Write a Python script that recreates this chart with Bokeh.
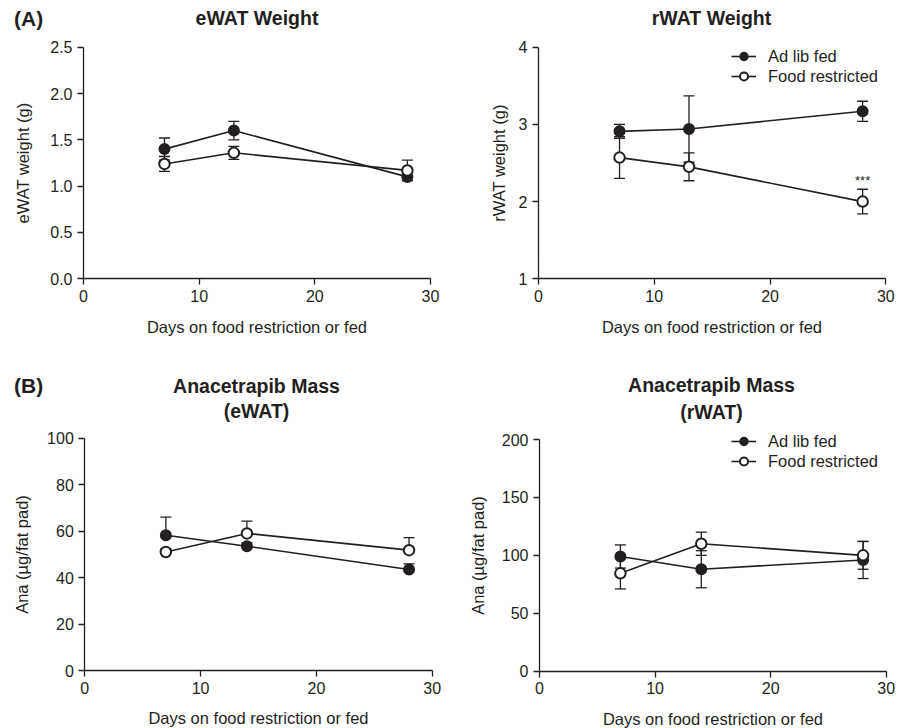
from bokeh.plotting import figure
from bokeh.models import (ColumnDataSource, FixedTicker, Label, Legend, LegendItem, Range1d)
from bokeh.layouts import column, row
from bokeh.embed import file_html
from bokeh.resources import INLINE
from bokeh.core.properties import value

# ---------------- data ----------------
series_labels = ["Ad lib fed", "Food restricted"]
x_label = "Days on food restriction or fed"
x_ticks = [0, 10, 20, 30]

ewat_days = [7, 13, 28]
ewat_adlib = [1.40, 1.60, 1.10]
ewat_adlib_err = [0.12, 0.10, 0.04]
ewat_fr = [1.24, 1.36, 1.17]
ewat_fr_err = [0.08, 0.07, 0.11]
ewat_ticks = [0.0, 0.5, 1.0, 1.5, 2.0, 2.5]

rwat_days = [7, 13, 28]
rwat_adlib = [2.91, 2.94, 3.17]
rwat_adlib_err = [0.09, 0.43, 0.13]
rwat_fr = [2.57, 2.45, 2.00]
rwat_fr_err = [0.27, 0.18, 0.16]
rwat_ticks = [1, 2, 3, 4]
rwat_sig_x = [28]
rwat_sig_y = [2.27]
rwat_sig_text = ["***"]

ana_e_days = [7, 14, 28]
ana_e_adlib = [58.2, 53.5, 43.5]
ana_e_adlib_err = [7.8, 1.5, 2.4]
ana_e_fr = [51.0, 59.0, 51.8]
ana_e_fr_err = [1.5, 5.3, 5.4]
ana_e_ticks = [0, 20, 40, 60, 80, 100]

ana_r_days = [7, 14, 28]
ana_r_adlib = [99.0, 88.0, 96.0]
ana_r_adlib_err = [10.0, 16.0, 16.0]
ana_r_fr = [84.5, 110.0, 100.0]
ana_r_fr_err = [13.5, 10.0, 12.0]
ana_r_ticks = [0, 50, 100, 150, 200]

# ---------------- style ----------------
INK = "#231f20"
FONT = "Liberation Sans"


class Panel:
    """A figure whose frame covers its whole canvas; the axes are placed with
    fixed_location and limited with bounds, so every text sits inside the frame."""

    def __init__(self, W, H, x0_px, x30_px, ybot_px, ytop_px, yticks, ylabel,
                 ylab_standoff, xlab_standoff, xtick_standoff=5, fmt=None):
        self.W, self.H = W, H
        self.x0_px, self.ybot_px = x0_px, ybot_px
        self.xs = 30.0 / (x30_px - x0_px)
        y0, y1 = yticks[0], yticks[-1]
        self.y0 = y0
        self.ys = (y1 - y0) / (ybot_px - ytop_px)
        x_lo = -x0_px * self.xs
        x_hi = 30 + (W - x30_px) * self.xs
        y_lo = y0 - (H - ybot_px) * self.ys
        y_hi = y0 + ybot_px * self.ys
        p = figure(width=W, height=H, x_range=Range1d(x_lo, x_hi),
                   y_range=Range1d(y_lo, y_hi),
                   output_backend="svg", toolbar_location=None,
                   min_border_left=0, min_border_right=0,
                   min_border_top=0, min_border_bottom=0)
        p.outline_line_color = None
        p.grid.visible = False
        p.background_fill_color = "white"
        p.border_fill_color = "white"
        for ax in (p.xaxis[0], p.yaxis[0]):
            ax.axis_line_width = 1.3
            ax.axis_line_color = INK
            ax.major_tick_line_width = 1.3
            ax.major_tick_line_color = INK
            ax.major_tick_out = 6
            ax.major_tick_in = 0
            ax.minor_tick_line_color = None
            ax.major_label_text_font = FONT
            ax.major_label_text_font_size = "16px"
            ax.major_label_text_color = INK
            ax.major_label_standoff = 5
            ax.axis_label_text_font = FONT
            ax.axis_label_text_font_size = "16.5px"
            ax.axis_label_text_font_style = "normal"
            ax.axis_label_text_color = INK
        p.xaxis.ticker = FixedTicker(ticks=x_ticks)
        p.yaxis.ticker = FixedTicker(ticks=yticks)
        p.xaxis.bounds = (0, 30)
        p.yaxis.bounds = (y0, y1)
        p.yaxis.fixed_location = 0
        p.xaxis.fixed_location = y0
        if fmt is not None:
            p.yaxis.major_label_overrides = {t: fmt.format(t) for t in yticks}
        p.xaxis.axis_label = x_label
        p.yaxis.axis_label = ylabel
        p.yaxis.axis_label_standoff = ylab_standoff
        p.xaxis.axis_label_standoff = xlab_standoff
        p.xaxis.major_label_standoff = xtick_standoff
        self.p = p

    def dx(self, px):  # canvas pixel -> data x
        return (px - self.x0_px) * self.xs

    def dy(self, py):  # canvas pixel (from top) -> data y
        return self.y0 + (self.ybot_px - py) * self.ys

    def label(self, text, px, py, size="19.5px", align="center"):
        self.p.add_layout(Label(x=self.dx(px), y=self.dy(py), text=text,
                                text_align=align, text_baseline="middle",
                                text_font=FONT, text_font_size=size,
                                text_font_style="bold", text_color=INK))

    def legend(self, ra, rf, left_px, top_px):
        # legend location is measured from the frame's bottom-left corner
        leg = Legend(items=[LegendItem(label=series_labels[0], renderers=list(ra)),
                            LegendItem(label=series_labels[1], renderers=list(rf))],
                     location=(left_px, self.H - (top_px + 40)),
                     border_line_color=None, background_fill_alpha=0,
                     padding=0, margin=0, spacing=0, glyph_width=25, glyph_height=20,
                     label_height=20, label_standoff=12,
                     label_text_font=FONT, label_text_font_size="16.5px",
                     label_text_color=INK)
        self.p.add_layout(leg)


def error_bars(p, x, y, err, both=True):
    hi = [v + e for v, e in zip(y, err)]
    lo = [v - e for v, e in zip(y, err)] if both else list(y)
    src = ColumnDataSource(dict(x=x, hi=hi, lo=lo))
    p.segment(x0="x", y0="lo", x1="x", y1="hi", source=src,
              line_color=INK, line_width=1.3)
    p.scatter(x="x", y="hi", source=src, marker="dash", size=11,
              line_color=INK, line_width=1.3)
    if both:
        p.scatter(x="x", y="lo", source=src, marker="dash", size=11,
                  line_color=INK, line_width=1.3)


def draw(p, x, a, a_err, f, f_err, both=True):
    error_bars(p, x, a, a_err, both)
    error_bars(p, x, f, f_err, both)
    la = p.line(x, a, line_color=INK, line_width=1.6)
    lf = p.line(x, f, line_color=INK, line_width=1.6)
    sa = p.scatter(x, a, marker="circle", size=10.5, fill_color=INK,
                   line_color=INK, line_width=1.5)
    sf = p.scatter(x, f, marker="circle", size=10.5, fill_color="white",
                   line_color=INK, line_width=2.0)
    return (la, sa), (lf, sf)


# ---------------- panel A left ----------------
A1 = Panel(453, 358, 83, 430, 278.3, 46.7, ewat_ticks, "eWAT weight (g)", 15, 13, fmt="{:.1f}")
draw(A1.p, ewat_days, ewat_adlib, ewat_adlib_err, ewat_fr, ewat_fr_err)
A1.label("eWAT Weight", 256.5, 17)
A1.label("(A)", 13.5, 17.5, size="21px", align="left")

# ---------------- panel A right ----------------
A2 = Panel(454, 358, 85, 432.3, 278.3, 46.7, rwat_ticks, "rWAT weight (g)", 8, 13)
ra, rf = draw(A2.p, rwat_days, rwat_adlib, rwat_adlib_err, rwat_fr, rwat_fr_err)
A2.p.text(x=rwat_sig_x, y=rwat_sig_y, text=rwat_sig_text, text_align="center",
          text_baseline="middle", text_font=value(FONT), text_font_size="13px",
          text_color=INK)
A2.legend(ra, rf, 278, 46)
A2.label("rWAT Weight", 258, 17)

# ---------------- panel B left ----------------
B1 = Panel(453, 370, 84.3, 431.7, 312, 79.7, ana_e_ticks, "Ana (µg/fat pad)", 13, 12)
draw(B1.p, ana_e_days, ana_e_adlib, ana_e_adlib_err, ana_e_fr, ana_e_fr_err, both=False)
B1.label("Anacetrapib Mass", 256, 27)
B1.label("(eWAT)", 256, 52.5)
B1.label("(B)", 13.5, 27, size="21px", align="left")

# ---------------- panel B right ----------------
B2 = Panel(454, 370, 86, 432.7, 312.7, 81, ana_r_ticks, "Ana (µg/fat pad)", 12, 12)
ra4, rf4 = draw(B2.p, ana_r_days, ana_r_adlib, ana_r_adlib_err, ana_r_fr, ana_r_fr_err)
B2.legend(ra4, rf4, 278, 73)
B2.label("Anacetrapib Mass", 258, 26.5)
B2.label("(rWAT)", 258, 53)

layout = column(row(A1.p, A2.p), row(B1.p, B2.p))
open("out.html", "w").write(file_html(layout, INLINE))
